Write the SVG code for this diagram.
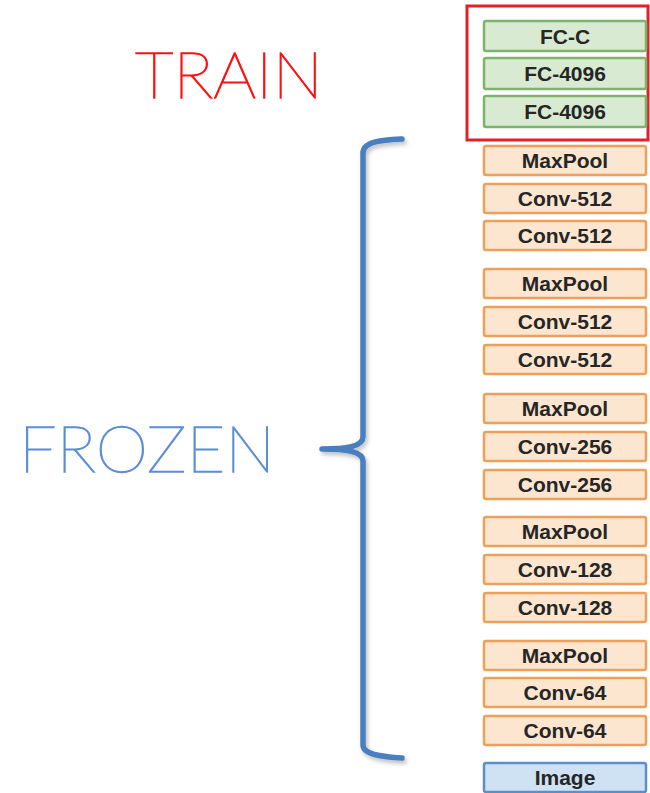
<svg xmlns="http://www.w3.org/2000/svg" width="650" height="793" viewBox="0 0 650 793">
  <style>
    .lbl { font-family: "Liberation Sans", Arial, sans-serif; font-weight: bold; font-size: 21px; fill: #262626; text-anchor: middle; }
    .fc rect { fill: #d9ead3; stroke: #7cb469; stroke-width: 2.5; }
    .cv rect { fill: #fde6d0; stroke: #eca05a; stroke-width: 2.5; }
    .img rect { fill: #cfe2f3; stroke: #5b8fc9; stroke-width: 2.5; }
    .big { font-family: Lato, "Open Sans", sans-serif; font-weight: 100; font-size: 64px; stroke-width: 1.3; }
  </style>
  <defs>
    <filter id="shadow" x="-50%" y="-10%" width="200%" height="120%">
      <feDropShadow dx="2" dy="3" stdDeviation="2" flood-color="#000" flood-opacity="0.25"/>
    </filter>
  </defs>
  <rect width="650" height="793" fill="#ffffff"/>

  <!-- trainable head -->
  <rect id="train-box" x="467" y="6" width="181" height="134" fill="none" stroke="#e0202a" stroke-width="3"/>
  <g id="fc-c" class="fc"><rect x="484" y="21" width="162" height="30" rx="2"/><text class="lbl" x="565" y="43.5">FC-C</text></g>
  <g id="fc-4096-b" class="fc"><rect x="484" y="58" width="162" height="31" rx="2"/><text class="lbl" x="565" y="81">FC-4096</text></g>
  <g id="fc-4096-a" class="fc"><rect x="484" y="96" width="162" height="31" rx="2"/><text class="lbl" x="565" y="119">FC-4096</text></g>

  <!-- conv stack -->
  <g id="pool5" class="cv"><rect x="484" y="146" width="162" height="29" rx="2"/><text class="lbl" x="565" y="168">MaxPool</text></g>
  <g id="conv5-2" class="cv"><rect x="484" y="184" width="162" height="29" rx="2"/><text class="lbl" x="565" y="206">Conv-512</text></g>
  <g id="conv5-1" class="cv"><rect x="484" y="221" width="162" height="29" rx="2"/><text class="lbl" x="565" y="243">Conv-512</text></g>

  <g id="pool4" class="cv"><rect x="484" y="269" width="162" height="29" rx="2"/><text class="lbl" x="565" y="291">MaxPool</text></g>
  <g id="conv4-2" class="cv"><rect x="484" y="307" width="162" height="29" rx="2"/><text class="lbl" x="565" y="329">Conv-512</text></g>
  <g id="conv4-1" class="cv"><rect x="484" y="345" width="162" height="29" rx="2"/><text class="lbl" x="565" y="367">Conv-512</text></g>

  <g id="pool3" class="cv"><rect x="484" y="394" width="162" height="29" rx="2"/><text class="lbl" x="565" y="416">MaxPool</text></g>
  <g id="conv3-2" class="cv"><rect x="484" y="432" width="162" height="29" rx="2"/><text class="lbl" x="565" y="454">Conv-256</text></g>
  <g id="conv3-1" class="cv"><rect x="484" y="470" width="162" height="29" rx="2"/><text class="lbl" x="565" y="492">Conv-256</text></g>

  <g id="pool2" class="cv"><rect x="484" y="517" width="162" height="29" rx="2"/><text class="lbl" x="565" y="539">MaxPool</text></g>
  <g id="conv2-2" class="cv"><rect x="484" y="555" width="162" height="29" rx="2"/><text class="lbl" x="565" y="577">Conv-128</text></g>
  <g id="conv2-1" class="cv"><rect x="484" y="593" width="162" height="29" rx="2"/><text class="lbl" x="565" y="615">Conv-128</text></g>

  <g id="pool1" class="cv"><rect x="484" y="641" width="162" height="29" rx="2"/><text class="lbl" x="565" y="663">MaxPool</text></g>
  <g id="conv1-2" class="cv"><rect x="484" y="678" width="162" height="29" rx="2"/><text class="lbl" x="565" y="700">Conv-64</text></g>
  <g id="conv1-1" class="cv"><rect x="484" y="716" width="162" height="29" rx="2"/><text class="lbl" x="565" y="738">Conv-64</text></g>

  <g id="image" class="img"><rect x="484" y="763" width="162" height="29" rx="2"/><text class="lbl" x="565" y="785">Image</text></g>

  <!-- labels -->
  <text id="train-label" class="big" x="135" y="98" fill="#ff1010" stroke="#ff1010" textLength="188" lengthAdjust="spacingAndGlyphs">TRAIN</text>
  <text id="frozen-label" class="big" x="19" y="472" fill="#5a8fd8" stroke="#5a8fd8" textLength="256" lengthAdjust="spacingAndGlyphs">FROZEN</text>

  <!-- connectors: brace spanning the frozen layers -->
  <g id="connectors">
    <path d="M402,139 C384,140 363,141 363,153 L363,437 C363,446 348,449 322,449 C348,449 363,452 363,461 L363,745 C363,755 384,757 402,758" fill="none" stroke="#4a7ebf" stroke-width="5.5" stroke-linecap="round" stroke-linejoin="round" filter="url(#shadow)"/>
  </g>
</svg>
